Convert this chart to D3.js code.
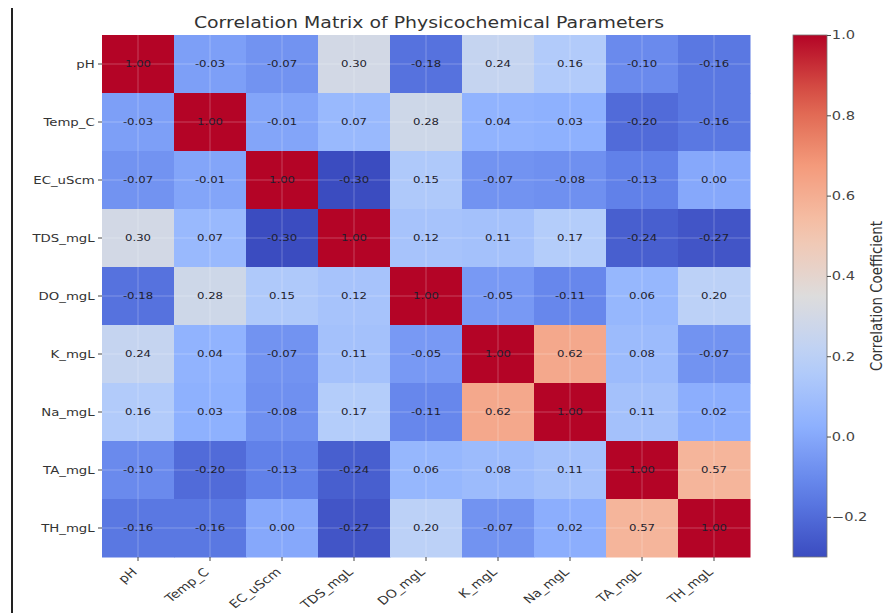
<!DOCTYPE html>
<html>
<head>
<meta charset="utf-8">
<script src="https://cdn.jsdelivr.net/npm/d3@7"></script>
<style>
  body { margin: 0; background: #fff; }
  svg { display: block; font-family: "DejaVu Sans", sans-serif; }
</style>
</head>
<body>
<script>
const params = ["pH", "Temp_C", "EC_uScm", "TDS_mgL", "DO_mgL", "K_mgL", "Na_mgL", "TA_mgL", "TH_mgL"];

const pH      = [1.00, -0.03, -0.07, 0.30, -0.18, 0.24, 0.16, -0.10, -0.16];
const Temp_C  = [-0.03, 1.00, -0.01, 0.07, 0.28, 0.04, 0.03, -0.20, -0.16];
const EC_uScm = [-0.07, -0.01, 1.00, -0.30, 0.15, -0.07, -0.08, -0.13, 0.00];
const TDS_mgL = [0.30, 0.07, -0.30, 1.00, 0.12, 0.11, 0.17, -0.24, -0.27];
const DO_mgL  = [-0.18, 0.28, 0.15, 0.12, 1.00, -0.05, -0.11, 0.06, 0.20];
const K_mgL   = [0.24, 0.04, -0.07, 0.11, -0.05, 1.00, 0.62, 0.08, -0.07];
const Na_mgL  = [0.16, 0.03, -0.08, 0.17, -0.11, 0.62, 1.00, 0.11, 0.02];
const TA_mgL  = [-0.10, -0.20, -0.13, -0.24, 0.06, 0.08, 0.11, 1.00, 0.57];
const TH_mgL  = [-0.16, -0.16, 0.00, -0.27, 0.20, -0.07, 0.02, 0.57, 1.00];

const rows = [pH, Temp_C, EC_uScm, TDS_mgL, DO_mgL, K_mgL, Na_mgL, TA_mgL, TH_mgL];
const cbTicks = [-0.2, 0.0, 0.2, 0.4, 0.6, 0.8, 1.0];

const W = 888, H = 613;
const hm = { left: 102, top: 35, width: 648, height: 522 };
const sx = 1.22; // the picture is stretched sideways

const cells = rows.flatMap((r, i) => r.map((v, j) => ({ row: params[i], col: params[j], v })));
const vmin = d3.min(cells, d => d.v), vmax = d3.max(cells, d => d.v);

// coolwarm
const cwStops = ["#3b4cc0", "#5f7fe8", "#8db0fe", "#b9d0f9", "#dddcdc", "#f5c4ac", "#f49a7b", "#dc5d4a", "#b40426"];
const cw = d3.scaleLinear().domain(d3.range(9).map(i => i / 8)).range(cwStops).interpolate(d3.interpolateRgb);
const norm = d3.scaleLinear().domain([vmin, vmax]).range([0, 1]).clamp(true);
const color = v => cw(norm(v));

const x = d3.scaleBand().domain(params).range([hm.left, hm.left + hm.width]);
const y = d3.scaleBand().domain(params).range([hm.top, hm.top + hm.height]);

const svg = d3.select("body").append("svg").attr("width", W).attr("height", H);

// left border line of the screenshot
svg.append("line").attr("x1", 12).attr("x2", 12).attr("y1", 8).attr("y2", H)
  .attr("stroke", "#222").attr("stroke-width", 2);

svg.append("text")
  .attr("transform", `translate(${hm.left + hm.width / 2 + 3},28) scale(${sx},1)`)
  .attr("text-anchor", "middle").attr("font-size", 15.5).attr("fill", "#333")
  .text("Correlation Matrix of Physicochemical Parameters");

svg.append("g").selectAll("rect").data(cells).join("rect")
  .attr("x", d => x(d.col)).attr("y", d => y(d.row))
  .attr("width", x.bandwidth() + 0.5).attr("height", y.bandwidth() + 0.5)
  .attr("fill", d => color(d.v));

// faint grid lines through cell centres
const grid = svg.append("g").attr("stroke", "#fff").attr("stroke-opacity", 0.25).attr("stroke-width", 1);
grid.selectAll(".gx").data(params).join("line")
  .attr("x1", d => x(d) + x.bandwidth() / 2).attr("x2", d => x(d) + x.bandwidth() / 2)
  .attr("y1", hm.top).attr("y2", hm.top + hm.height);
grid.selectAll(".gy").data(params).join("line")
  .attr("y1", d => y(d) + y.bandwidth() / 2).attr("y2", d => y(d) + y.bandwidth() / 2)
  .attr("x1", hm.left).attr("x2", hm.left + hm.width);

svg.append("g").selectAll("text").data(cells).join("text")
  .attr("transform", d => `translate(${x(d.col) + x.bandwidth() / 2},${y(d.row) + y.bandwidth() / 2}) scale(${sx},1)`)
  .attr("dy", "0.35em").attr("text-anchor", "middle")
  .attr("font-size", 9.6).attr("fill", "#1e1e2e")
  .text(d => d.v.toFixed(2));

// axes
const yAxis = svg.append("g").attr("transform", `translate(${hm.left},0)`)
  .call(d3.axisLeft(y).tickSize(4).tickPadding(2));
yAxis.select(".domain").remove();
yAxis.selectAll("line").attr("stroke", "#444");
yAxis.selectAll("text")
  .attr("font-size", 10.9).attr("fill", "#333").attr("font-family", "DejaVu Sans")
  .attr("transform", `scale(${sx},1)`);

const xAxis = svg.append("g").attr("transform", `translate(0,${hm.top + hm.height})`)
  .call(d3.axisBottom(x).tickSize(4).tickPadding(4));
xAxis.select(".domain").remove();
xAxis.selectAll("line").attr("stroke", "#444");
xAxis.selectAll("text")
  .attr("font-size", 11.4).attr("fill", "#333").attr("font-family", "DejaVu Sans")
  .attr("text-anchor", "end").attr("x", 0).attr("y", 0).attr("dy", "0.72em")
  .attr("transform", `translate(-7,10) scale(${sx},1) rotate(-43)`);

// colorbar
const cb = { left: 793, width: 34 };
const cbY = d3.scaleLinear().domain([vmin, vmax]).range([hm.top + hm.height, hm.top]);
const defs = svg.append("defs");
const grad = defs.append("linearGradient").attr("id", "cbgrad")
  .attr("x1", 0).attr("x2", 0).attr("y1", 1).attr("y2", 0);
grad.selectAll("stop").data(d3.range(0, 1.0001, 0.05)).join("stop")
  .attr("offset", d => d).attr("stop-color", d => cw(d));
svg.append("rect").attr("x", cb.left).attr("y", hm.top)
  .attr("width", cb.width).attr("height", hm.height)
  .attr("fill", "url(#cbgrad)").attr("stroke", "#777").attr("stroke-width", 0.8);

const cbAxis = svg.append("g").attr("transform", `translate(${cb.left + cb.width},0)`)
  .call(d3.axisRight(cbY).tickValues(cbTicks).tickSize(4).tickPadding(0)
    .tickFormat(d => d3.format(".1f")(d).replace("-", "\u2212")));
cbAxis.select(".domain").remove();
cbAxis.selectAll("line").attr("stroke", "#444");
cbAxis.selectAll("text")
  .attr("font-size", 12).attr("fill", "#444").attr("font-family", "DejaVu Sans")
  .attr("transform", `scale(${sx},1)`);

svg.append("text")
  .attr("transform", `translate(882,${hm.top + hm.height / 2}) scale(${sx},1) rotate(-90)`)
  .attr("text-anchor", "middle").attr("font-size", 13.4).attr("fill", "#333")
  .text("Correlation Coefficient");
</script>
</body>
</html>
